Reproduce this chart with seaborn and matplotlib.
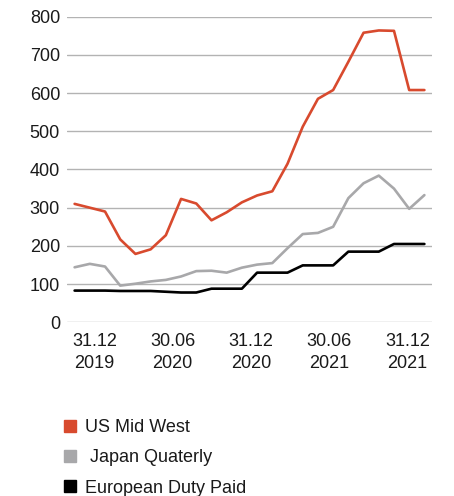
import matplotlib
matplotlib.use("Agg")
import matplotlib.pyplot as plt
import seaborn as sns
import pandas as pd
import numpy as np
from matplotlib.lines import Line2D

us_mid_west = [310, 300, 290, 217, 179, 191, 228, 323, 311, 267, 288, 314, 332,
               343, 415, 512, 585, 608, 682, 758, 764, 763, 608, 608]
japan_quaterly = [144, 153, 146, 96, 101, 107, 111, 120, 134, 135, 130, 143, 151,
                  155, 194, 231, 234, 250, 325, 364, 384, 350, 297, 333]
european_duty_paid = [83, 83, 83, 82, 82, 82, 80, 78, 78, 88, 88, 88, 130,
                      130, 130, 149, 149, 149, 185, 185, 185, 205, 205, 205]
series_names = ["US Mid West", " Japan Quaterly", "European Duty Paid"]
tick_labels = ["31.12\n2019", "30.06\n2020", "31.12\n2020", "30.06\n2021", "31.12\n2021"]
tick_pos = [1.3, 6.45, 11.6, 16.75, 21.9]
colors = ["#d84a2e", "#a8a8aa", "#000000"]

n = len(us_mid_west)
df = pd.DataFrame({
    "x": list(range(n)) * 3,
    "value": us_mid_west + japan_quaterly + european_duty_paid,
    "series": [series_names[0]] * n + [series_names[1]] * n + [series_names[2]] * n,
})

sns.set_theme(style="white")
plt.rcParams["font.family"] = ["Liberation Sans", "DejaVu Sans"]

fig = plt.figure(figsize=(4.54, 4.96), dpi=100)
ax = fig.add_axes([67 / 454, 1 - 322.3 / 496, (432 - 67) / 454, (322.3 - 16.7) / 496])

sns.lineplot(data=df, x="x", y="value", hue="series", palette=colors,
             hue_order=series_names, linewidth=1.9, ax=ax, legend=False, zorder=3)

ax.set_xlim(-0.5, n - 0.5)
ax.set_ylim(0, 800)
ax.set_yticks(range(0, 801, 100))
ax.yaxis.grid(True, color="#b3b3b3", linewidth=1.0, zorder=0)
ax.set_axisbelow(True)
for s in ax.spines.values():
    s.set_visible(False)
ax.set_xticks(tick_pos)
ax.set_xticklabels(tick_labels, fontsize=13, color="#1a1a1a", linespacing=1.38)
ax.tick_params(axis="y", labelsize=13, length=0, pad=5, labelcolor="#1a1a1a")
ax.tick_params(axis="x", length=0, pad=8)
ax.set_xlabel("")
ax.set_ylabel("")

handles = [Line2D([], [], marker="s", linestyle="none", color=c, markersize=8) for c in colors]
fig.legend(handles, series_names, loc="upper left", bbox_to_anchor=(62 / 454, 1 - 419 / 496),
           frameon=False, fontsize=13, handlelength=0.9, handletextpad=0.35,
           labelspacing=0.74, borderaxespad=0, borderpad=0, labelcolor="#1a1a1a")

fig.savefig("out.png", dpi=100)
